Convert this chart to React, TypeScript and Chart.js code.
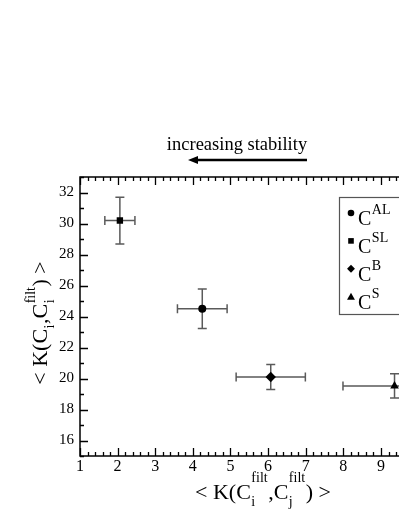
import React, { useEffect, useRef } from "react";
import { Chart, registerables } from "chart.js";

Chart.register(...registerables);

// Data
const seriesNames = ["AL", "SL", "B", "S"];
const pointStyles = ["circle", "rect", "rectRot", "triangle"];
const xMean = [4.25, 2.06, 6.07, 9.36];
const yMean = [24.5, 30.19, 20.1, 19.52];
const xErr = [0.66, 0.4, 0.92, 1.37];
const yErr = [1.27, 1.51, 0.81, 0.78];
const xTickLabels = ["1", "2", "3", "4", "5", "6", "7", "8", "9", "10"];
const yTickLabels = ["16", "18", "20", "22", "24", "26", "28", "30", "32"];

const SERIF = "'Liberation Serif', 'DejaVu Serif', serif";

type Part = { t?: string; sub?: string; sup?: string };

function measureRich(ctx: CanvasRenderingContext2D, parts: Part[], main: number, small: number) {
  let w = 0;
  for (const p of parts) {
    if (p.t !== undefined) {
      ctx.font = `${main}px ${SERIF}`;
      w += ctx.measureText(p.t).width;
    } else {
      ctx.font = `${small}px ${SERIF}`;
      const a = p.sub ? ctx.measureText(p.sub).width : 0;
      const b = p.sup ? ctx.measureText(p.sup).width : 0;
      w += Math.max(a, b) + 1;
    }
  }
  return w;
}

function drawRich(
  ctx: CanvasRenderingContext2D,
  parts: Part[],
  cx: number,
  y: number,
  main: number,
  small: number,
  subOff: number,
  supOff: number,
  alignLeft = false
) {
  const w = measureRich(ctx, parts, main, small);
  let x = alignLeft ? cx : cx - w / 2;
  ctx.textAlign = "left";
  ctx.textBaseline = "alphabetic";
  for (const p of parts) {
    if (p.t !== undefined) {
      ctx.font = `${main}px ${SERIF}`;
      ctx.fillText(p.t, x, y);
      x += ctx.measureText(p.t).width;
    } else {
      ctx.font = `${small}px ${SERIF}`;
      let a = 0,
        b = 0;
      if (p.sub) {
        ctx.fillText(p.sub, x + 0.5, y + subOff);
        a = ctx.measureText(p.sub).width;
      }
      if (p.sup) {
        ctx.fillText(p.sup, x + 0.5, y + supOff);
        b = ctx.measureText(p.sup).width;
      }
      x += Math.max(a, b) + 1;
    }
  }
}

function drawMarker(ctx: CanvasRenderingContext2D, style: string, x: number, y: number, r: number) {
  ctx.beginPath();
  if (style === "circle") {
    ctx.arc(x, y, r, 0, Math.PI * 2);
  } else if (style === "rect") {
    ctx.rect(x - r * 0.85, y - r * 0.85, r * 1.7, r * 1.7);
  } else if (style === "rectRot") {
    ctx.moveTo(x, y - r * 1.2);
    ctx.lineTo(x + r * 1.2, y);
    ctx.lineTo(x, y + r * 1.2);
    ctx.lineTo(x - r * 1.2, y);
    ctx.closePath();
  } else {
    ctx.moveTo(x, y - r * 1.2);
    ctx.lineTo(x + r * 1.2, y + r * 0.9);
    ctx.lineTo(x - r * 1.2, y + r * 0.9);
    ctx.closePath();
  }
  ctx.fill();
}

const errorBarPlugin = {
  id: "errorBars",
  beforeDatasetsDraw(chart: any) {
    const ctx = chart.ctx as CanvasRenderingContext2D;
    const xs = chart.scales.x;
    const ys = chart.scales.y;
    ctx.save();
    ctx.strokeStyle = "#5a5a5a";
    ctx.lineWidth = 1.5;
    const cap = 4.5;
    for (let i = 0; i < xMean.length; i++) {
      const px = xs.getPixelForValue(xMean[i]);
      const py = ys.getPixelForValue(yMean[i]);
      const x0 = xs.getPixelForValue(xMean[i] - xErr[i]);
      const x1 = xs.getPixelForValue(xMean[i] + xErr[i]);
      const y0 = ys.getPixelForValue(yMean[i] - yErr[i]);
      const y1 = ys.getPixelForValue(yMean[i] + yErr[i]);
      ctx.beginPath();
      ctx.moveTo(x0, py);
      ctx.lineTo(x1, py);
      ctx.moveTo(x0, py - cap);
      ctx.lineTo(x0, py + cap);
      ctx.moveTo(x1, py - cap);
      ctx.lineTo(x1, py + cap);
      ctx.moveTo(px, y0);
      ctx.lineTo(px, y1);
      ctx.moveTo(px - cap, y0);
      ctx.lineTo(px + cap, y0);
      ctx.moveTo(px - cap, y1);
      ctx.lineTo(px + cap, y1);
      ctx.stroke();
    }
    ctx.restore();
  },
};

const framePlugin = {
  id: "frame",
  afterDraw(chart: any) {
    const ctx = chart.ctx as CanvasRenderingContext2D;
    const xs = chart.scales.x;
    const ys = chart.scales.y;
    const { left, right, top, bottom } = chart.chartArea;
    ctx.save();
    ctx.strokeStyle = "#000";
    ctx.lineWidth = 1.3;
    ctx.beginPath();
    for (let i = xs.min * 5; i <= xs.max * 5; i++) {
      const px = Math.round(xs.getPixelForValue(i / 5)) + 0.5;
      const len = i % 5 === 0 ? 8 : 4;
      ctx.moveTo(px, bottom);
      ctx.lineTo(px, bottom - len);
      ctx.moveTo(px, top);
      ctx.lineTo(px, top + len);
    }
    for (let v = ys.min; v <= ys.max; v++) {
      const py = Math.round(ys.getPixelForValue(v)) + 0.5;
      const len = v % 2 === 0 ? 8 : 4;
      ctx.moveTo(left, py);
      ctx.lineTo(left + len, py);
      ctx.moveTo(right, py);
      ctx.lineTo(right - len, py);
    }
    ctx.stroke();
    ctx.lineWidth = 1.5;
    ctx.strokeRect(left, top, right - left, bottom - top);

    // Legend
    const lx = left + 259;
    const ly = top + 20;
    ctx.strokeStyle = "#555";
    ctx.lineWidth = 1.2;
    ctx.strokeRect(lx + 0.5, ly + 0.5, 80, 117);
    ctx.fillStyle = "#000";
    for (let i = 0; i < seriesNames.length; i++) {
      const rowY = ly + 16 + i * 27.9;
      drawMarker(ctx, pointStyles[i], lx + 12, rowY, 3.3);
      drawRich(ctx, [{ t: "C" }, { sup: seriesNames[i] }], lx + 19, rowY + 12, 20, 14, 0, -11, true);
    }

    // Top annotation
    ctx.fillStyle = "#000";
    ctx.font = `18.5px ${SERIF}`;
    ctx.textAlign = "center";
    ctx.textBaseline = "alphabetic";
    ctx.fillText("increasing stability", 237, 150);
    ctx.strokeStyle = "#000";
    ctx.lineWidth = 2.5;
    ctx.beginPath();
    ctx.moveTo(195, 160);
    ctx.lineTo(307, 160);
    ctx.stroke();
    ctx.beginPath();
    ctx.moveTo(188, 160);
    ctx.lineTo(198, 156);
    ctx.lineTo(198, 164);
    ctx.closePath();
    ctx.fill();

    // X axis title
    drawRich(
      ctx,
      [{ t: "< K(C" }, { sub: "i", sup: "filt" }, { t: ",C" }, { sub: "j", sup: "filt" }, { t: ") >" }],
      263,
      499,
      22,
      14,
      7,
      -17
    );

    // Y axis title
    ctx.save();
    ctx.translate(47, 323);
    ctx.rotate(-Math.PI / 2);
    drawRich(
      ctx,
      [{ t: "< K(C" }, { sub: "i" }, { t: ",C" }, { sub: "i", sup: "filt" }, { t: ") >" }],
      0,
      0,
      22,
      14,
      7,
      -12
    );
    ctx.restore();
    ctx.restore();
  },
};

export default function App() {
  const ref = useRef<HTMLCanvasElement>(null);
  useEffect(() => {
    if (!ref.current) return;
    const radii: Record<string, number> = { circle: 4, rect: 4.5, rectRot: 5.2, triangle: 5 };
    const chart = new Chart(ref.current, {
      type: "scatter",
      data: {
        datasets: seriesNames.map((n, i) => ({
          label: "C" + n,
          data: [{ x: xMean[i], y: yMean[i] }],
          pointStyle: pointStyles[i] as any,
          pointRadius: radii[pointStyles[i]],
          pointHoverRadius: radii[pointStyles[i]],
          backgroundColor: "#000",
          borderColor: "#000",
          borderWidth: 0,
        })),
      },
      options: {
        responsive: false,
        animation: false,
        devicePixelRatio: 1,
        layout: { padding: { left: 0, right: 440 - 418.6, top: 177, bottom: 0 } },
        plugins: { legend: { display: false }, tooltip: { enabled: false } },
        scales: {
          x: {
            type: "linear",
            min: 1,
            max: 10,
            grid: { display: false, drawTicks: false },
            border: { display: false },
            afterFit: (s: any) => {
              s.height = 60;
            },
            ticks: {
              stepSize: 1,
              autoSkip: false,
              maxRotation: 0,
              padding: 1,
              color: "#000",
              font: { family: SERIF, size: 16 },
              callback: (v: any) => xTickLabels[Math.round(Number(v)) - 1] ?? "",
            },
          },
          y: {
            type: "linear",
            min: 15,
            max: 33,
            grid: { display: false, drawTicks: false },
            border: { display: false },
            afterFit: (s: any) => {
              s.width = 80;
            },
            ticks: {
              stepSize: 1,
              autoSkip: false,
              padding: 6,
              color: "#000",
              font: { family: SERIF, size: 15 },
              callback: (v: any) => {
                const n = Number(v);
                return n % 2 === 0 ? yTickLabels[(n - 16) / 2] ?? "" : "";
              },
            },
          },
        },
      },
      plugins: [errorBarPlugin, framePlugin],
    });
    return () => chart.destroy();
  }, []);
  return (
    <div style={{ position: "absolute", left: 0, top: 0, width: 399, height: 516, overflow: "hidden", background: "#fff" }}>
      <canvas ref={ref} width={440} height={516} style={{ width: 440, height: 516, display: "block" }} />
    </div>
  );
}
